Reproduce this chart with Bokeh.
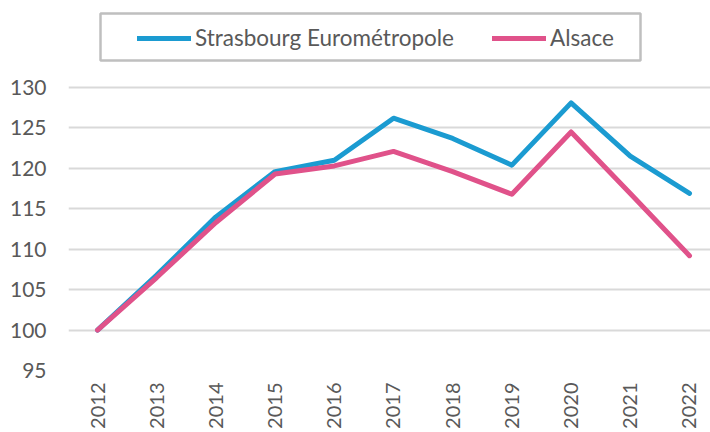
import math
from bokeh.plotting import figure
from bokeh.models import Range1d, FixedTicker, Legend, LegendItem, BoxAnnotation
from bokeh.embed import file_html
from bokeh.resources import INLINE

years = [2012, 2013, 2014, 2015, 2016, 2017, 2018, 2019, 2020, 2021, 2022]
strasbourg = [100, 106.8, 114.0, 119.6, 121.0, 126.2, 123.7, 120.4, 128.1, 121.5, 116.9]
alsace = [100, 106.5, 113.3, 119.3, 120.3, 122.1, 119.6, 116.8, 124.5, 116.9, 109.2]
y_ticks = [95, 100, 105, 110, 115, 120, 125, 130]
series_names = ["Strasbourg Eurométropole", "Alsace"]
colors = ["#1b9bd1", "#e0528a"]

FONT = "Lato"
GREY = "#595959"

p = figure(width=710, height=432, output_backend="svg", toolbar_location=None,
           x_range=Range1d(2011.51, 2022.355), y_range=Range1d(95, 140.76),
           min_border_left=68, min_border_right=0, min_border_top=0, min_border_bottom=62)
p.outline_line_color = None
p.background_fill_color = "white"
p.border_fill_color = "white"

r1 = p.line(years, strasbourg, line_color=colors[0], line_width=5, line_join="round", line_cap="round")
r2 = p.line(years, alsace, line_color=colors[1], line_width=5, line_join="round", line_cap="round")

p.xgrid.visible = False
p.ygrid.grid_line_color = "#d9d9d9"
p.ygrid.grid_line_width = 2
p.yaxis.ticker = FixedTicker(ticks=y_ticks)
p.xaxis.ticker = FixedTicker(ticks=years)

for ax in (p.xaxis[0], p.yaxis[0]):
    ax.axis_line_color = None
    ax.major_tick_line_color = None
    ax.minor_tick_line_color = None
    ax.major_label_text_font = FONT
    ax.major_label_text_color = GREY

p.yaxis.major_label_text_font_size = "21px"
p.yaxis.major_label_standoff = 16
p.xaxis.major_label_text_font_size = "20px"
p.xaxis.major_label_orientation = math.pi / 2
p.xaxis.major_label_standoff = 6

legend = Legend(items=[LegendItem(label=series_names[0], renderers=[r1]),
                       LegendItem(label=series_names[1], renderers=[r2])],
                orientation="horizontal", location=(69, 319))
legend.label_text_font = FONT
legend.label_text_font_size = "22.5px"
legend.label_text_color = GREY
legend.glyph_width = 54
legend.label_standoff = 4
legend.spacing = 38
legend.padding = 0
legend.margin = 0
legend.border_line_color = None
legend.background_fill_alpha = 0
p.add_layout(legend, "center")

frame_box = BoxAnnotation(left=32, right=572, top=357, bottom=310,
                          left_units="screen", right_units="screen",
                          top_units="screen", bottom_units="screen",
                          fill_alpha=0, line_color="#2b2b2b", line_width=2.5)
p.add_layout(frame_box)

open("out.html", "w").write(file_html(p, INLINE))
